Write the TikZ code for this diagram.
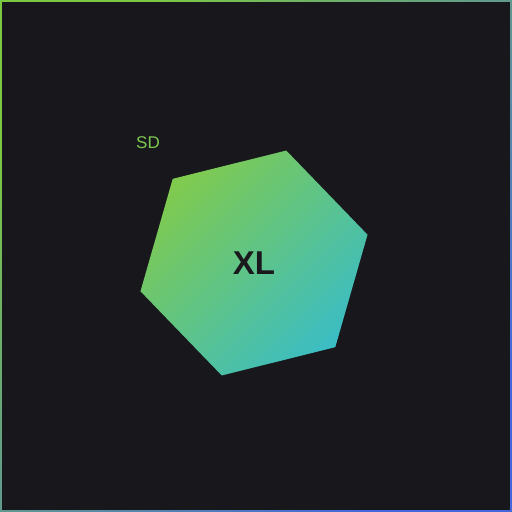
\documentclass[tikz,border=0pt]{standalone}
\usepackage{fontspec}
\setmainfont{Liberation Sans}
\usetikzlibrary{calc}
\definecolor{bg}{HTML}{18181C}
\definecolor{hexA}{HTML}{80CA4E}
\definecolor{hexB}{HTML}{3BBDC4}
\definecolor{bordA}{HTML}{7AC943}
\definecolor{bordB}{HTML}{4468DC}
\definecolor{txt}{HTML}{1A1A1E}
\definecolor{sdgreen}{HTML}{7CC850}
\begin{document}
\begin{tikzpicture}[x=1pt,y=1pt,
  hexfill/.style={top color=hexA,bottom color=hexB,shading angle=45},
  bordfill/.style={top color=bordA,bottom color=bordB,shading angle=45},
  bigtext/.style={font=\bfseries\fontsize{33}{33}\selectfont,text=txt,inner sep=0pt},
  smalltext/.style={font=\fontsize{17}{17}\selectfont,text=sdgreen,inner sep=0pt}]
\useasboundingbox (0,0) rectangle (512,512);
\shade[bordfill] (0,0) rectangle (512,512);
\fill[bg] (2,2) rectangle (510,510);
\coordinate (c) at (254,249);
\foreach \i in {0,...,5} \coordinate (v\i) at ($(c)+(14+60*\i:117)$);
\shade[hexfill] (v0)--(v1)--(v2)--(v3)--(v4)--(v5)--cycle;
\node[bigtext] (xl) at (c) {XL};
\node[smalltext] (sd) at (148,369) {SD};
\end{tikzpicture}
\end{document}
